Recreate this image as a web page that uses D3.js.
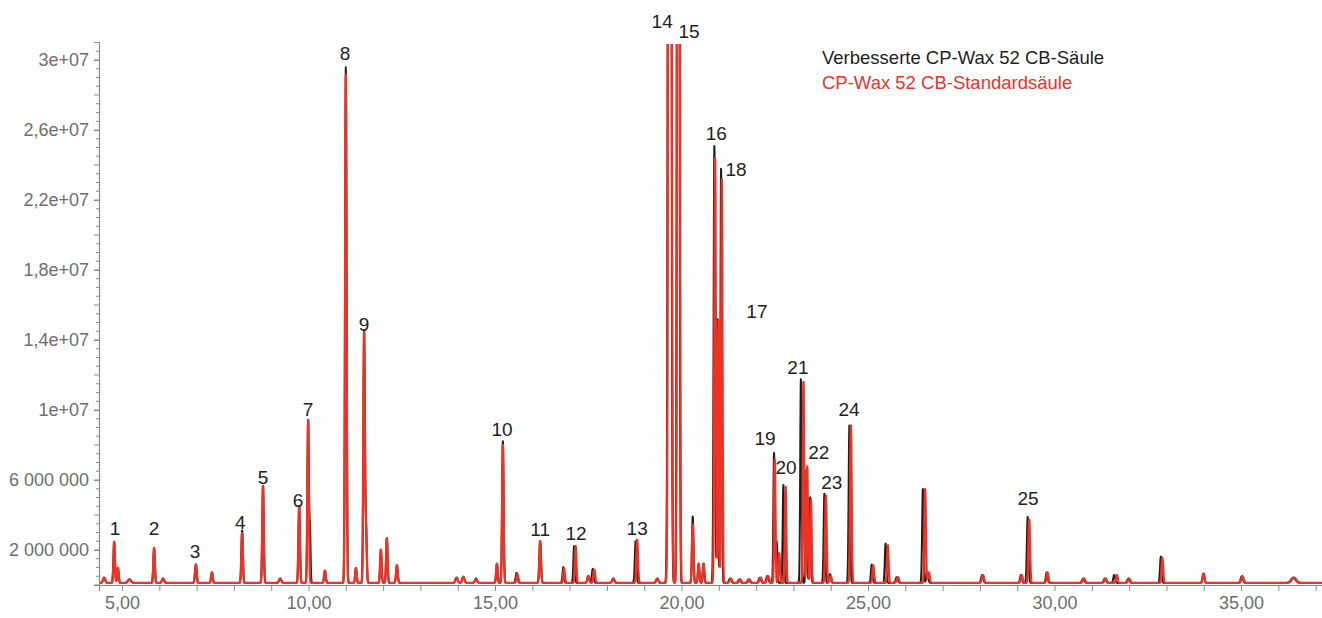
<!DOCTYPE html>
<html>
<head>
<meta charset="utf-8">
<script src="https://cdn.jsdelivr.net/npm/d3@7"></script>
<style>
  body { margin: 0; background: #fff; }
  text { font-family: "Liberation Sans", Arial, sans-serif; }
</style>
</head>
<body>
<div id="chart"></div>
<script>
// Peaks: [retention time (min), height (millions), sigma (min)]
var blackPeaks = [
  [4.52,0.3,0.03],[4.79,2.35,0.02],[4.89,0.85,0.02],[5.2,0.2,0.04],[5.86,2.0,0.02],[6.1,0.25,0.03],
  [6.98,1.05,0.022],[7.41,0.6,0.022],[8.22,3.0,0.02],[8.78,5.55,0.02],[9.24,0.25,0.03],[9.75,4.4,0.02],
  [9.99,9.3,0.02],[10.04,3.0,0.015],[10.44,0.7,0.022],[11.0,29.5,0.02],[11.27,0.85,0.02],[11.49,14.3,0.02],
  [11.54,3.1,0.02],[11.94,1.9,0.02],[12.1,2.55,0.02],[12.37,1.0,0.022],[13.97,0.3,0.03],[14.15,0.35,0.03],
  [14.49,0.25,0.03],[15.05,1.1,0.02],[15.21,8.1,0.02],[15.58,0.57,0.025],[16.21,2.38,0.022],[16.83,0.9,0.02],
  [17.12,2.1,0.02],[17.5,0.4,0.025],[17.62,0.8,0.025],[18.17,0.25,0.03],[18.77,2.4,0.022],[19.35,0.25,0.03],
  [19.68,200,0.028],[19.91,150,0.0225],[20.3,3.8,0.02],[20.46,1.1,0.02],[20.59,1.1,0.02],[20.88,25.0,0.02],
  [20.97,15.1,0.015],[21.06,23.7,0.018],[21.3,0.25,0.03],[21.55,0.2,0.03],[21.8,0.2,0.03],[22.1,0.3,0.03],
  [22.3,0.4,0.03],[22.48,7.43,0.018],[22.55,2.38,0.02],[22.73,5.6,0.018],[23.2,11.66,0.018],[23.35,6.5,0.018],
  [23.45,4.9,0.018],[23.83,5.1,0.02],[23.98,0.5,0.025],[24.5,9.0,0.02],[25.1,1.05,0.022],[25.47,2.25,0.02],
  [25.77,0.33,0.03],[26.47,5.37,0.02],[26.59,0.6,0.025],[28.06,0.45,0.03],[29.1,0.45,0.025],[29.28,3.77,0.022],
  [29.79,0.6,0.025],[30.77,0.25,0.03],[31.35,0.25,0.03],[31.6,0.45,0.025],[31.98,0.25,0.03],[32.85,1.5,0.022],
  [33.99,0.53,0.025],[35.02,0.38,0.03],[36.4,0.3,0.06]
];
var redPeaks = [
  [4.52,0.3,0.03],[4.79,2.35,0.02],[4.89,0.85,0.02],[5.2,0.2,0.04],[5.86,2.0,0.02],[6.1,0.25,0.03],
  [6.98,1.05,0.022],[7.41,0.6,0.022],[8.22,2.85,0.02],[8.78,5.55,0.02],[9.24,0.25,0.03],[9.75,4.4,0.02],
  [9.99,9.3,0.02],[10.44,0.7,0.022],[11.0,29.1,0.02],[11.27,0.85,0.02],[11.49,14.3,0.02],[11.54,3.1,0.02],
  [11.94,1.9,0.02],[12.1,2.55,0.02],[12.37,1.0,0.022],[13.97,0.3,0.03],[14.15,0.35,0.03],[14.49,0.2,0.03],
  [15.05,1.1,0.02],[15.21,7.9,0.02],[15.6,0.5,0.025],[16.21,2.38,0.022],[16.85,0.85,0.02],[17.16,2.1,0.02],
  [17.5,0.4,0.025],[17.66,0.75,0.025],[18.17,0.25,0.03],[18.81,2.47,0.022],[19.35,0.25,0.03],[19.69,200,0.028],
  [19.92,150,0.0225],[20.3,3.35,0.02],[20.46,1.1,0.02],[20.59,1.1,0.02],[20.9,24.3,0.02],[20.99,15.0,0.015],
  [21.08,23.1,0.018],[21.32,0.25,0.03],[21.57,0.2,0.03],[21.82,0.2,0.03],[22.12,0.3,0.03],[22.32,0.4,0.03],
  [22.5,7.05,0.018],[22.62,1.7,0.02],[22.79,5.5,0.018],[23.27,11.5,0.018],[23.37,6.67,0.018],[23.47,4.76,0.018],
  [23.87,5.0,0.02],[24.0,0.4,0.025],[24.54,9.0,0.02],[25.14,1.0,0.022],[25.53,2.15,0.02],[25.8,0.33,0.03],
  [26.53,5.37,0.02],[26.63,0.6,0.025],[28.08,0.45,0.03],[29.12,0.45,0.025],[29.32,3.62,0.022],[29.81,0.6,0.025],
  [30.79,0.25,0.03],[31.37,0.25,0.03],[31.67,0.45,0.025],[32.0,0.25,0.03],[32.89,1.43,0.022],[34.0,0.53,0.025],
  [35.04,0.38,0.03],[36.42,0.3,0.06]
];
var baselineLevel = 0.12; // millions

// Peak numbers and where they sit (time, value in millions)
var peakLabels = ["1","2","3","4","5","6","7","8","9","10","11","12","13","14","15","16","17","18","19","20","21","22","23","24","25"];
var labelTimes = [4.81,5.86,6.96,8.17,8.78,9.72,9.99,10.98,11.49,15.19,16.21,17.17,18.81,19.48,20.2,20.93,22.02,21.46,22.24,22.8,23.12,23.68,24.03,24.49,29.29];
var labelValues = [2.86,2.86,1.54,3.2,5.77,4.46,9.66,30.0,14.5,8.51,2.8,2.57,2.86,31.83,31.26,25.43,15.26,23.37,8.0,6.34,12.06,7.2,5.49,9.66,4.57];

var seriesNames = ["Verbesserte CP-Wax 52 CB-Säule", "CP-Wax 52 CB-Standardsäule"];
var seriesColors = ["#1e1e1e", "#ec3326"];

var yTickValues = [2e6, 6e6, 1e7, 1.4e7, 1.8e7, 2.2e7, 2.6e7, 3e7];
var yTickLabels = ["2 000 000", "6 000 000", "1e+07", "1,4e+07", "1,8e+07", "2,2e+07", "2,6e+07", "3e+07"];
var xTickValues = [5, 10, 15, 20, 25, 30, 35];
var xTickLabels = ["5,00", "10,00", "15,00", "20,00", "25,00", "30,00", "35,00"];

var W = 1322, H = 618;
var margin = {top: 42, right: 0, bottom: 33, left: 99};

var x = d3.scaleLinear().domain([4.383, 37.17]).range([margin.left, W - margin.right]);
var y = d3.scaleLinear().domain([0, 31.03e6]).range([H - margin.bottom, margin.top]);

var svg = d3.select("#chart").append("svg")
    .attr("width", W)
    .attr("height", H);

svg.append("defs").append("clipPath")
    .attr("id", "plotclip")
  .append("rect")
    .attr("x", margin.left)
    .attr("y", 44)
    .attr("width", W - margin.left)
    .attr("height", H - margin.bottom - 44 + 2);

// Build a trace from the peak list
function trace(peaks) {
  var pts = [];
  var t0 = x.domain()[0], t1 = x.domain()[1];
  for (var t = t0; t <= t1; t += 0.004) {
    var v = baselineLevel;
    peaks.forEach(function(p) {
      var d = t - p[0];
      if (Math.abs(d) < 7 * p[2]) v += p[1] * Math.exp(-d * d / (2 * p[2] * p[2]));
    });
    pts.push([t, v * 1e6]);
  }
  return pts;
}

var line = d3.line()
    .x(function(d) { return x(d[0]); })
    .y(function(d) { return y(d[1]); });

var plot = svg.append("g").attr("clip-path", "url(#plotclip)");

plot.append("path")
    .datum(trace(blackPeaks))
    .attr("fill", "none")
    .attr("stroke", seriesColors[0])
    .attr("stroke-width", 2)
    .attr("stroke-linejoin", "round")
    .attr("d", line);

plot.append("path")
    .datum(trace(redPeaks))
    .attr("fill", "none")
    .attr("stroke", seriesColors[1])
    .attr("stroke-width", 2.3)
    .attr("stroke-linejoin", "round")
    .attr("d", line);

// X axis: minor ticks every minute, labels every 5
var xAxis = d3.axisBottom(x)
    .tickValues(d3.range(5, 38, 1))
    .tickSize(6)
    .tickFormat(function(d) { var i = xTickValues.indexOf(d); return i < 0 ? "" : xTickLabels[i]; });

var gx = svg.append("g")
    .attr("transform", "translate(0," + y(0) + ")")
    .call(xAxis);
gx.select(".domain").attr("stroke", "#8a8a8a").attr("stroke-width", 1.2);
gx.selectAll(".tick line").attr("stroke", "#8a8a8a");
gx.selectAll(".tick text")
    .attr("fill", "#6e6e6e")
    .attr("dy", "0.75em")
    .attr("y", 10)
    .style("font-size", "18px");

// Y axis: labelled ticks every 4e6, medium every 2e6, small every 5e5
var minorY = svg.append("g").attr("transform", "translate(" + margin.left + ",0)");
minorY.selectAll("line")
    .data(d3.range(0, 31e6, 5e5))
    .enter().append("line")
    .attr("x1", function(d) { return d % 2e6 === 0 ? -5 : -3; })
    .attr("x2", 0)
    .attr("y1", function(d) { return y(d); })
    .attr("y2", function(d) { return y(d); })
    .attr("stroke", "#8a8a8a");

var yAxis = d3.axisLeft(y)
    .tickValues(yTickValues)
    .tickSize(5)
    .tickPadding(5)
    .tickFormat(function(d, i) { return yTickLabels[i]; });

var gy = svg.append("g")
    .attr("transform", "translate(" + margin.left + ",0)")
    .call(yAxis);
gy.select(".domain").attr("stroke", "#8a8a8a").attr("stroke-width", 1.2);
gy.selectAll(".tick line").attr("stroke", "#8a8a8a");
gy.selectAll(".tick text")
    .attr("fill", "#6e6e6e")
    .style("font-size", "18px");

// Peak numbers
svg.append("g").selectAll("text")
    .data(peakLabels)
    .enter().append("text")
    .attr("x", function(d, i) { return x(labelTimes[i]); })
    .attr("y", function(d, i) { return y(labelValues[i] * 1e6); })
    .attr("text-anchor", "middle")
    .attr("fill", "#222")
    .style("font-size", "19px")
    .text(function(d) { return d; });

// Legend
svg.append("g").selectAll("text")
    .data(seriesNames)
    .enter().append("text")
    .attr("x", 822)
    .attr("y", function(d, i) { return 64 + i * 25; })
    .attr("fill", function(d, i) { return seriesColors[i]; })
    .style("font-size", "18.5px")
    .text(function(d) { return d; });
</script>
</body>
</html>
